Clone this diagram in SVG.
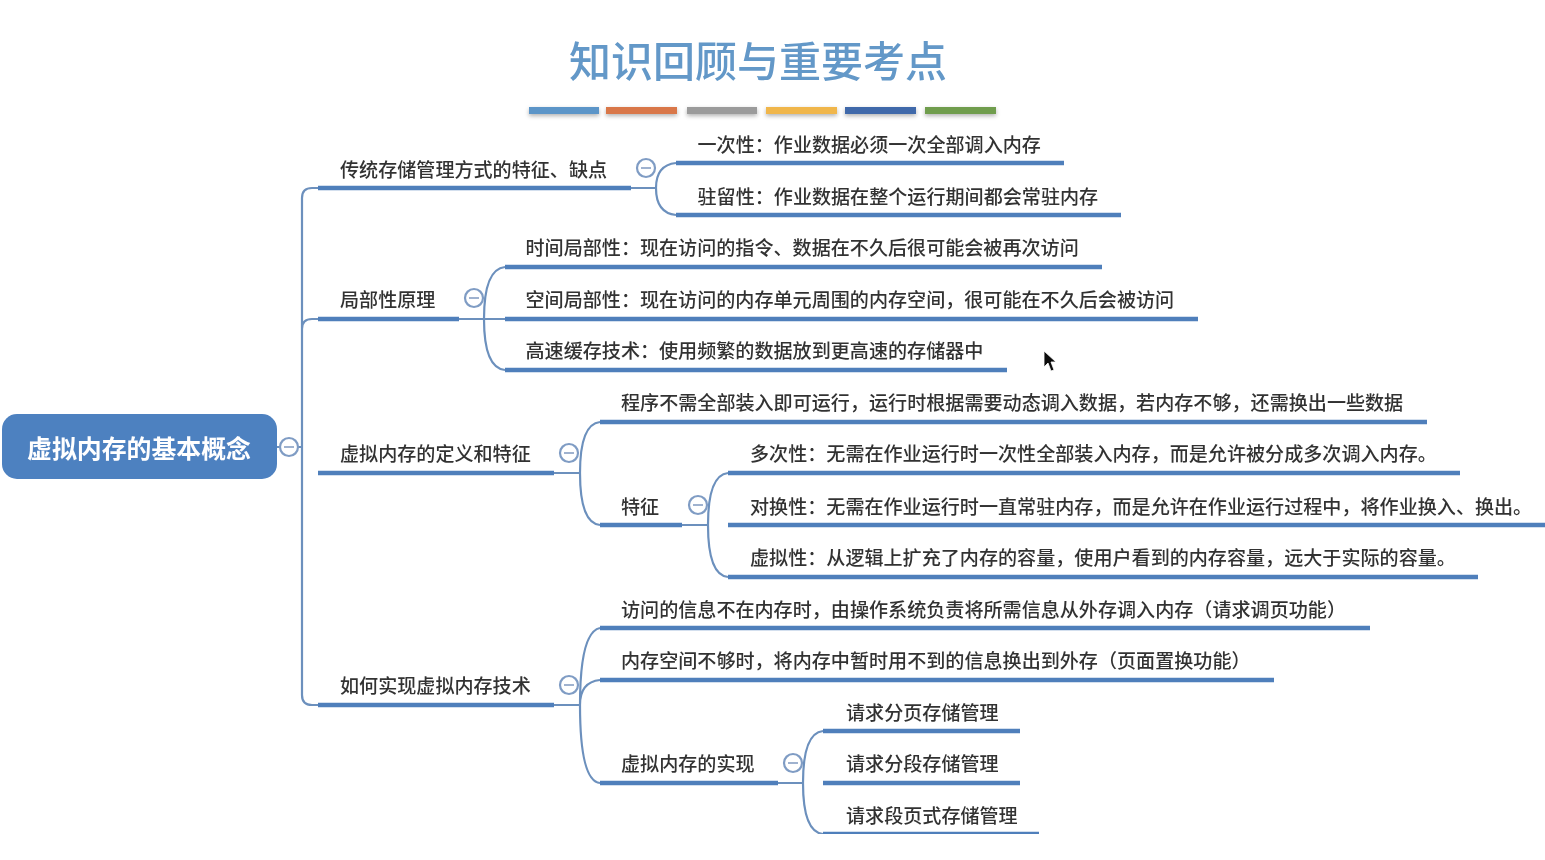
<svg xmlns="http://www.w3.org/2000/svg" width="1545" height="860" viewBox="0 0 1545 860">
<defs><filter id="soft" x="0" y="0" width="100%" height="100%"><feGaussianBlur stdDeviation="0.45"/></filter></defs>
<style>
text{font-family:"Noto Sans CJK SC","Noto Sans",sans-serif}
.t{font-size:19.08px;fill:#333;font-weight:500}
.u{stroke:#4f7fbb;stroke-width:4.6;fill:none}
.c{stroke:#6c90bd;stroke-width:2.2;fill:none}
.m{fill:#fff;stroke:#7f9cc4;stroke-width:2.2}
.d{stroke:#9fb2cf;stroke-width:2}
.b{filter:drop-shadow(0 2px 2px rgba(0,0,0,.3))}
</style>
<rect width="1545" height="860" fill="#fff"/>
<g filter="url(#soft)">
<g id="title"><text x="758" y="77" text-anchor="middle" font-size="42" fill="#6498c8" style="font-weight:500">知识回顾与重要考点</text>
<rect class="b" x="529" y="107" width="70" height="7" fill="#5b95c8"/><rect class="b" x="606" y="107" width="71" height="7" fill="#d9774a"/><rect class="b" x="687" y="107" width="70" height="7" fill="#9b9b9b"/><rect class="b" x="766" y="107" width="71" height="7" fill="#f0b64b"/><rect class="b" x="845" y="107" width="71" height="7" fill="#3f69aa"/><rect class="b" x="925" y="107" width="71" height="7" fill="#6f9d4e"/></g>
<g id="connectors">
<path class="c" d="M277 447H302M318 188H312Q302 188 302 198V695Q302 705 312 705H318M318 319H312Q302 319 302 329"/>
<path class="c" d="M631 188H656M676 163Q656 165 656 188Q656 213 676 215"/>
<path class="c" d="M459 319H505M505 267Q484 269 484 319Q484 368 505 370"/>
<path class="c" d="M554 473H580M600 422Q580 424 580 473Q580 523 600 525"/>
<path class="c" d="M682 525H708M728 473Q708 475 708 525Q708 575 728 577"/>
<path class="c" d="M554 705H580M600 628Q580 632 580 705Q580 781 600 783M600 680Q580 682 580 705"/>
<path class="c" d="M778 783H803M823 731Q803 733 803 783Q803 832 823 834"/>
</g>
<g id="root"><rect x="2" y="414" width="275" height="65" rx="15" fill="#4e81c0"/><text x="139" y="458" text-anchor="middle" font-size="24.9" fill="#fff" style="font-weight:700">虚拟内存的基本概念</text><circle class="m" cx="289" cy="447" r="9"/><path class="d" d="M284 447H294"/></g>
<g id="n1"><path class="u" d="M318 188H631"/><text class="t" x="340" y="177">传统存储管理方式的特征、缺点</text><circle class="m" cx="646" cy="168" r="9"/><path class="d" d="M641 168H651"/></g>
<g id="n1a"><path class="u" d="M676 163H1064"/><text class="t" x="697.5" y="151.5">一次性：作业数据必须一次全部调入内存</text></g>
<g id="n1b"><path class="u" d="M676 215H1121"/><text class="t" x="697.5" y="204">驻留性：作业数据在整个运行期间都会常驻内存</text></g>
<g id="n2"><path class="u" d="M318 319H459"/><text class="t" x="340" y="307">局部性原理</text><circle class="m" cx="474" cy="298" r="9"/><path class="d" d="M469 298H479"/></g>
<g id="n2a"><path class="u" d="M505 267H1102"/><text class="t" x="525.5" y="255">时间局部性：现在访问的指令、数据在不久后很可能会被再次访问</text></g>
<g id="n2b"><path class="u" d="M505 319H1198"/><text class="t" x="525.5" y="307">空间局部性：现在访问的内存单元周围的内存空间，很可能在不久后会被访问</text></g>
<g id="n2c"><path class="u" d="M505 370H1007"/><text class="t" x="525.5" y="358">高速缓存技术：使用频繁的数据放到更高速的存储器中</text></g>
<g id="n3"><path class="u" d="M318 473H554"/><text class="t" x="340" y="461">虚拟内存的定义和特征</text><circle class="m" cx="569" cy="453" r="9"/><path class="d" d="M564 453H574"/></g>
<g id="n3a"><path class="u" d="M600 422H1427"/><text class="t" x="621" y="410">程序不需全部装入即可运行，运行时根据需要动态调入数据，若内存不够，还需换出一些数据</text></g>
<g id="n3b"><path class="u" d="M600 525H682"/><text class="t" x="621" y="513.5">特征</text><circle class="m" cx="698" cy="505" r="9"/><path class="d" d="M693 505H703"/></g>
<g id="n3b1"><path class="u" d="M728 473H1460"/><text class="t" x="750" y="461">多次性：无需在作业运行时一次性全部装入内存，而是允许被分成多次调入内存。</text></g>
<g id="n3b2"><path class="u" d="M728 525H1545"/><text class="t" x="750" y="513.5">对换性：无需在作业运行时一直常驻内存，而是允许在作业运行过程中，将作业换入、换出。</text></g>
<g id="n3b3"><path class="u" d="M728 577H1478"/><text class="t" x="750" y="565">虚拟性：从逻辑上扩充了内存的容量，使用户看到的内存容量，远大于实际的容量。</text></g>
<g id="n4"><path class="u" d="M318 705H554"/><text class="t" x="340" y="693">如何实现虚拟内存技术</text><circle class="m" cx="569" cy="685" r="9"/><path class="d" d="M564 685H574"/></g>
<g id="n4a"><path class="u" d="M600 628H1370"/><text class="t" x="621" y="617">访问的信息不在内存时，由操作系统负责将所需信息从外存调入内存（请求调页功能）</text></g>
<g id="n4b"><path class="u" d="M600 680H1274"/><text class="t" x="621" y="668">内存空间不够时，将内存中暂时用不到的信息换出到外存（页面置换功能）</text></g>
<g id="n4c"><path class="u" d="M600 783H778"/><text class="t" x="621" y="771">虚拟内存的实现</text><circle class="m" cx="793" cy="763" r="9"/><path class="d" d="M788 763H798"/></g>
<g id="n4c1"><path class="u" d="M823 731H1020"/><text class="t" x="846" y="720">请求分页存储管理</text></g>
<g id="n4c2"><path class="u" d="M823 783H1020"/><text class="t" x="846" y="771">请求分段存储管理</text></g>
<g id="n4c3"><path class="u" d="M823 834H1039"/><text class="t" x="846" y="823">请求段页式存储管理</text></g>
<path id="cursor" d="M1044 351V367L1048 363L1051 371L1054 370L1051 362L1056 362Z" fill="#111" stroke="#fff" stroke-width=".8"/>
</g>
</svg>
